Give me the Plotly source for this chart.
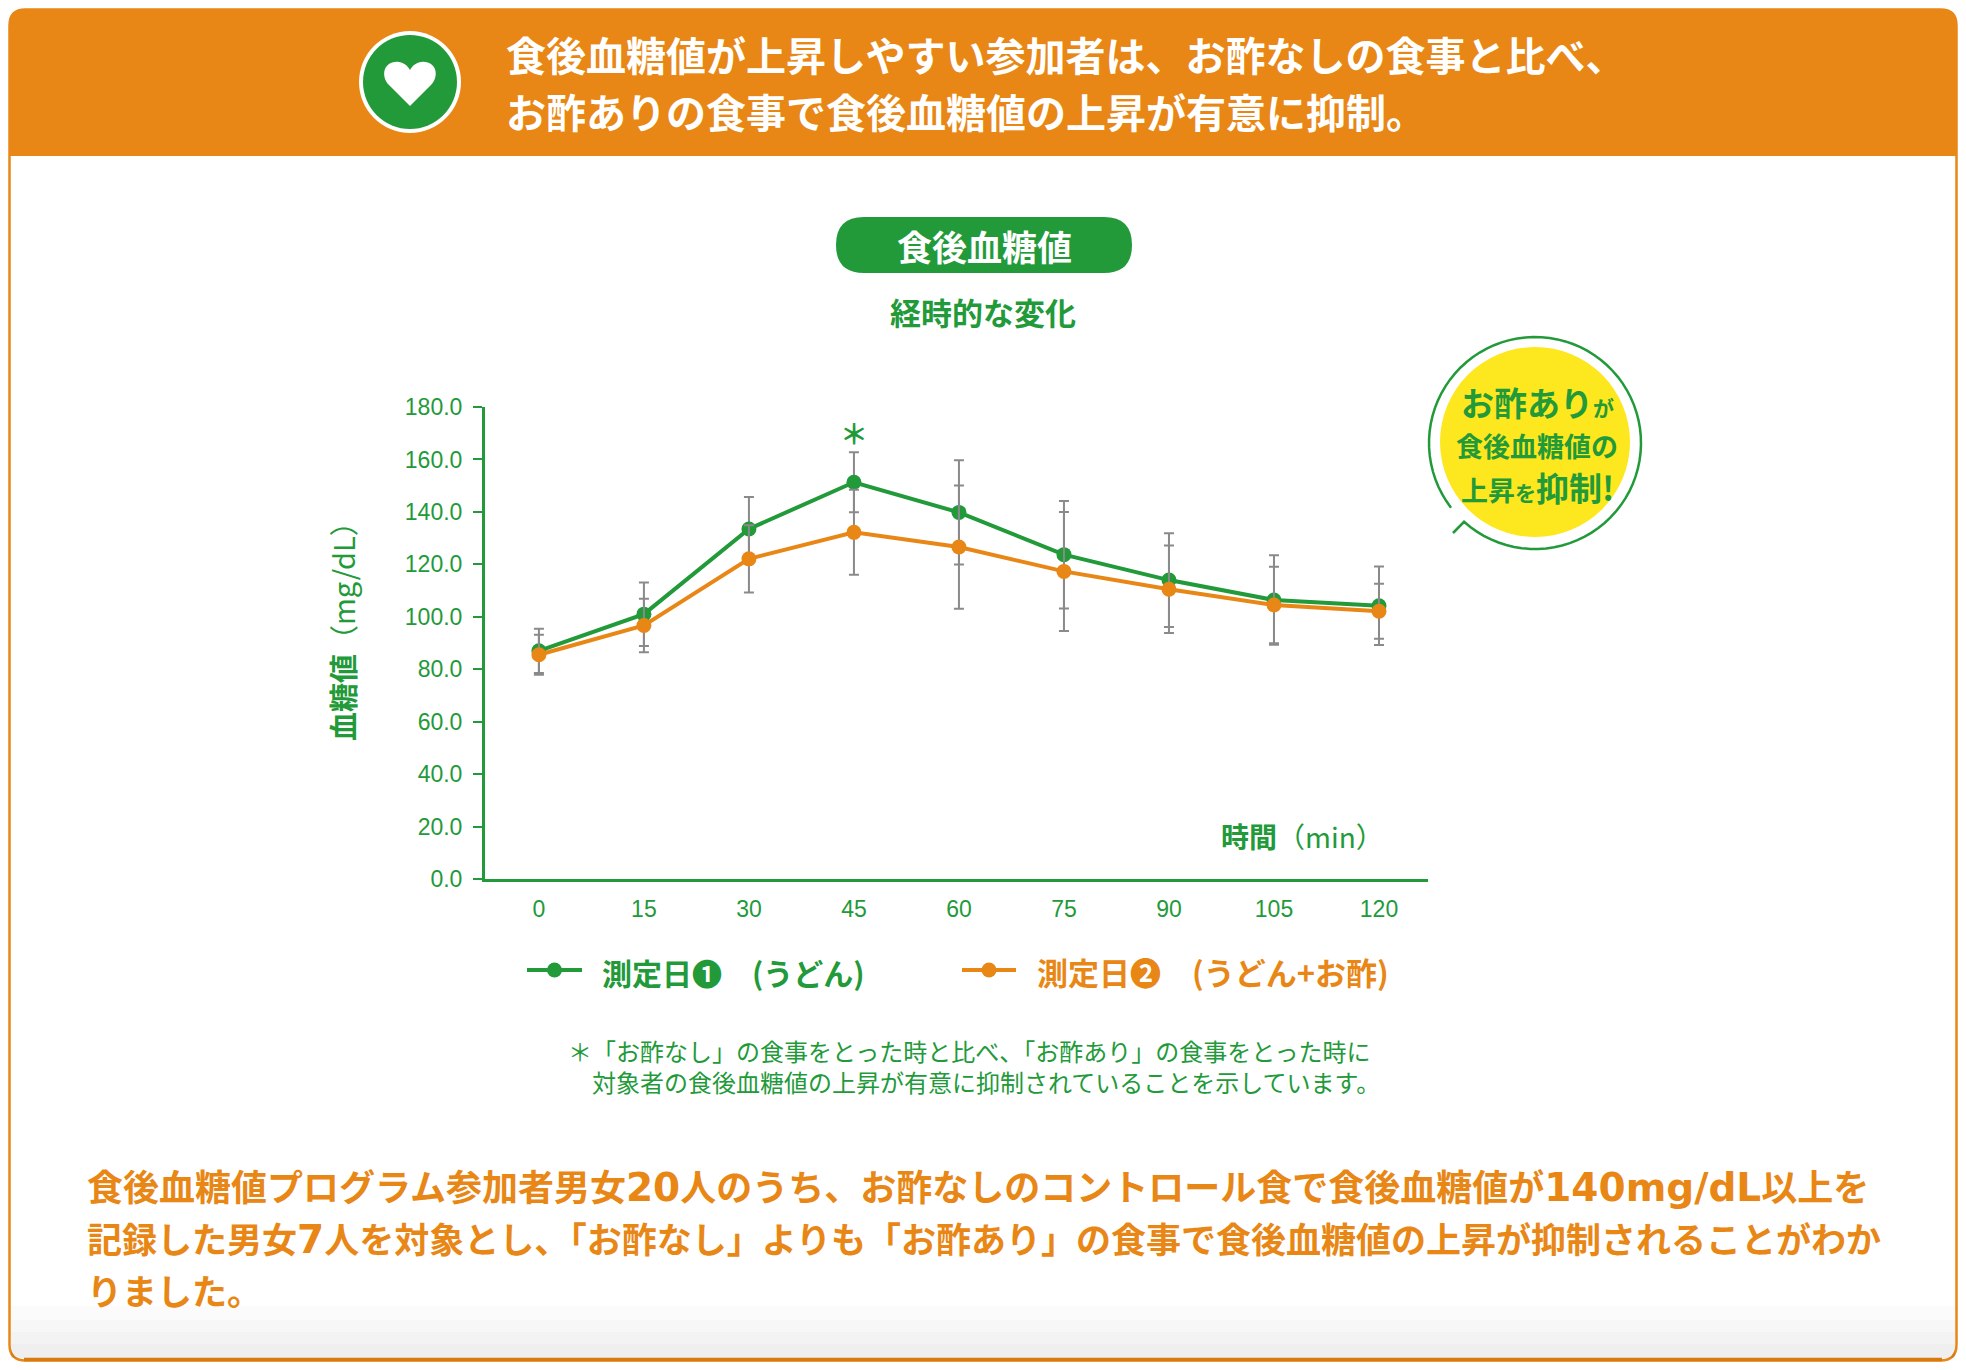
import math
import plotly.graph_objects as go

# browser page is 1966x1370 and the body keeps its default 8px margin,
# so the figure is 1950x1354 and decorations are given in page px
PAGE_W, PAGE_H = 1966, 1370
OFF = 8
W, H = PAGE_W - 2 * OFF, PAGE_H - 2 * OFF

GREEN = '#229a3a'
ORANGE = '#e88716'
YELLOW = '#fde71e'
GRAY = '#8a8a8a'
JP = 'Noto Sans CJK JP'

# data
minutes = [0, 15, 30, 45, 60, 75, 90, 105, 120]
udon = [87.0, 101.0, 133.5, 151.3, 139.8, 123.7, 114.0, 106.4, 104.2]
udon_err = [8.4, 12.1, 12.2, 11.4, 19.9, 20.5, 17.9, 17.1, 15.0]
udon_vinegar = [85.5, 96.7, 122.1, 132.2, 126.6, 117.3, 110.5, 104.5, 102.1]
udon_vinegar_err = [7.6, 10.2, 12.8, 16.2, 23.5, 22.7, 16.7, 14.6, 10.5]
y_ticks = [0, 20, 40, 60, 80, 100, 120, 140, 160, 180]
y_ticktext = ['%.1f' % v for v in y_ticks]
series_names = ['測定日❶　(うどん)', '測定日❷　(うどん+お酢)']
series_colors = [GREEN, ORANGE]


def fx(x):
    return (x - OFF) / W


def fy(y):
    return 1 - (y - OFF) / H


def rrect(x0, y0, x1, y1, r, top_only=False):
    rb = 0 if top_only else r
    p = 'M %f,%f ' % (fx(x0 + r), fy(y0))
    p += 'L %f,%f Q %f,%f %f,%f ' % (fx(x1 - r), fy(y0), fx(x1), fy(y0), fx(x1), fy(y0 + r))
    p += 'L %f,%f Q %f,%f %f,%f ' % (fx(x1), fy(y1 - rb), fx(x1), fy(y1), fx(x1 - rb), fy(y1))
    p += 'L %f,%f Q %f,%f %f,%f ' % (fx(x0 + rb), fy(y1), fx(x0), fy(y1), fx(x0), fy(y1 - rb))
    p += 'L %f,%f Q %f,%f %f,%f Z' % (fx(x0), fy(y0 + r), fx(x0), fy(y0), fx(x0 + r), fy(y0))
    return p


def circle(cx, cy, r, **kw):
    return dict(type='circle', xref='paper', yref='paper',
                x0=fx(cx - r), x1=fx(cx + r), y0=fy(cy + r), y1=fy(cy - r), **kw)


fig = go.Figure()

fig.add_trace(go.Scatter(
    x=minutes, y=udon, name=series_names[0], showlegend=False,
    mode='lines+markers', line=dict(color=GREEN, width=4), marker=dict(size=15, color=GREEN),
    error_y=dict(type='data', array=udon_err, color=GRAY, thickness=2, width=5),
))
fig.add_trace(go.Scatter(
    x=minutes, y=udon_vinegar, name=series_names[1], showlegend=False,
    mode='lines+markers', line=dict(color=ORANGE, width=4), marker=dict(size=15, color=ORANGE),
    error_y=dict(type='data', array=udon_vinegar_err, color=GRAY, thickness=2, width=5),
))

shapes = []
# outer frame + header band
shapes.append(dict(type='path', xref='paper', yref='paper', path=rrect(9.5, 9.5, 1956.5, 1360.5, 16),
                   fillcolor='white', line=dict(color=ORANGE, width=2.5), layer='below'))
# soft gray shade at the bottom of the panel
for y0 in [1306, 1320, 1332, 1344]:
    shapes.append(dict(type='rect', xref='paper', yref='paper', x0=fx(11), x1=fx(1955), y0=fy(1358), y1=fy(y0),
                       fillcolor='rgba(0,0,0,0.017)', line=dict(width=0), layer='below'))
shapes.append(dict(type='line', xref='paper', yref='paper', x0=fx(24), x1=fx(1942), y0=fy(1359.5), y1=fy(1359.5),
                   line=dict(color='#d97a10', width=3.5), layer='below'))
shapes.append(dict(type='path', xref='paper', yref='paper', path=rrect(9, 9, 1957, 156, 16, top_only=True),
                   fillcolor=ORANGE, line=dict(width=0), layer='below'))
# heart badge
shapes.append(circle(410, 82, 51, fillcolor='white', line=dict(width=0), layer='below'))
shapes.append(circle(410, 82, 47, fillcolor=GREEN, line=dict(width=0), layer='below'))
heart = [(410, 106), (389, 85), (381, 77), (383, 63), (395, 62), (402, 61), (407, 65), (410, 70),
         (413, 65), (418, 61), (425, 62), (437, 63), (439, 77), (431, 85)]
hp = 'M %f,%f L %f,%f ' % (fx(heart[0][0]), fy(heart[0][1]), fx(heart[1][0]), fy(heart[1][1]))
for k in range(2, 14, 3):
    hp += 'C ' + ' '.join('%f,%f' % (fx(a), fy(b)) for a, b in heart[k:k + 3]) + ' '
hp += 'Z'
shapes.append(dict(type='path', xref='paper', yref='paper', path=hp, fillcolor='white',
                   line=dict(width=0), layer='below'))
# title pill
shapes.append(dict(type='path', xref='paper', yref='paper', path=rrect(836, 217, 1132, 273, 28),
                   fillcolor=GREEN, line=dict(width=0), layer='below'))
# speech bubble
shapes.append(circle(1535, 442, 95, fillcolor=YELLOW, line=dict(width=0), layer='below'))
cx, cy, r = 1535, 443, 106
pts = [(1453, 533)]
for i in range(81):
    a = math.radians(228 + (577.6 - 228) * i / 80)
    pts.append((cx + r * math.cos(a), cy - r * math.sin(a)))
bp = 'M ' + ' L '.join('%f,%f' % (fx(a), fy(b)) for a, b in pts)
shapes.append(dict(type='path', xref='paper', yref='paper', path=bp,
                   line=dict(color=GREEN, width=2.5), layer='below'))

# legend keys (line with a dot in the middle)
for (lx0, lx1), c in zip([(527, 582), (962, 1016)], series_colors):
    shapes.append(dict(type='line', xref='paper', yref='paper', x0=fx(lx0), x1=fx(lx1), y0=fy(970), y1=fy(970),
                       line=dict(color=c, width=4)))
    shapes.append(circle((lx0 + lx1) / 2, 970, 7.5, fillcolor=c, line=dict(width=0)))

ann = []


def text(x, y, s, size, color, xanchor='left', bold=False, **kw):
    ann.append(dict(x=fx(x), y=fy(y), xref='paper', yref='paper', text=s, showarrow=False,
                    xanchor=xanchor, yanchor='middle',
                    font=dict(family=JP, size=size, color=color, weight='bold' if bold else 'normal'), **kw))


text(504, 54, '食後血糖値が上昇しやすい参加者は、お酢なしの食事と比べ、', 40, 'white', bold=True)
text(504, 111, 'お酢ありの食事で食後血糖値の上昇が有意に抑制。', 40, 'white', bold=True)
text(984, 245, '食後血糖値', 35, 'white', xanchor='center', bold=True)
text(983, 312, '経時的な変化', 31, GREEN, xanchor='center', bold=True)

text(1537, 402, 'お酢あり<span style="font-size:21px">が</span>', 33, GREEN, xanchor='center', bold=True)
text(1537, 445, '食後血糖値の', 27, GREEN, xanchor='center', bold=True)
text(1537, 487, '上昇<span style="font-size:21px">を</span><span style="font-size:33px">抑制!</span>', 27, GREEN,
     xanchor='center', bold=True)

text(342, 624, '<b>血糖値</b>（mg/dL）', 29, GREEN, xanchor='center', textangle=-90)
text(1386, 836, '<b>時間</b>（min）', 28, GREEN, xanchor='right')

text(600, 972, series_names[0], 30, GREEN, bold=True)
text(1035, 972, series_names[1], 31, ORANGE, bold=True)

ann.append(dict(x=45, y=170, xref='x', yref='y', text='＊', showarrow=False,
                font=dict(family=JP, size=28, color=GREEN, weight='bold')))

text(566, 1066, '＊「お酢なし」の食事をとった時と比べ、「お酢あり」の食事をとった時に<br>'
                '　対象者の食後血糖値の上昇が有意に抑制されていることを示しています。', 24, GREEN, align='left')

wide = '<span style="font-family:DejaVu Sans;font-size:39px">%s</span>'
text(85, 1185, '食後血糖値プログラム参加者男女' + wide % '20' + '人のうち、お酢なしのコントロール食で食後血糖値が'
     + wide % '140mg/dL' + '以上を', 36, ORANGE, bold=True)
text(85, 1237, '記録した男女' + wide % '7' + '人を対象とし、「お酢なし」よりも「お酢あり」の食事で食後血糖値の上昇が抑制されることがわか',
     35, ORANGE, bold=True)
text(85, 1289, 'りました。', 35, ORANGE, bold=True)

fig.update_layout(
    width=W, height=H,
    margin=dict(l=0, r=0, t=0, b=0, autoexpand=False),
    paper_bgcolor='white', plot_bgcolor='rgba(0,0,0,0)',
    shapes=shapes, annotations=ann,
    showlegend=False,
    xaxis=dict(domain=[fx(485), fx(1428)], range=[-7.7, 127], tickvals=minutes, showgrid=False, zeroline=False,
               showline=True, linecolor=GREEN, linewidth=3, ticks='', ticklabelstandoff=7, automargin=False,
               tickfont=dict(family='Liberation Sans, Arial', size=23, color=GREEN)),
    yaxis=dict(domain=[fy(879), fy(407)], range=[0, 180], tickvals=y_ticks, ticktext=y_ticktext,
               showgrid=False, zeroline=False, showline=True, linecolor=GREEN, linewidth=3,
               ticks='outside', ticklen=9, tickwidth=2, tickcolor=GREEN, ticklabelstandoff=6, automargin=False,
               tickfont=dict(family='Liberation Sans, Arial', size=23, color=GREEN)),
)

fig.write_html('out.html', config={'displayModeBar': False})
